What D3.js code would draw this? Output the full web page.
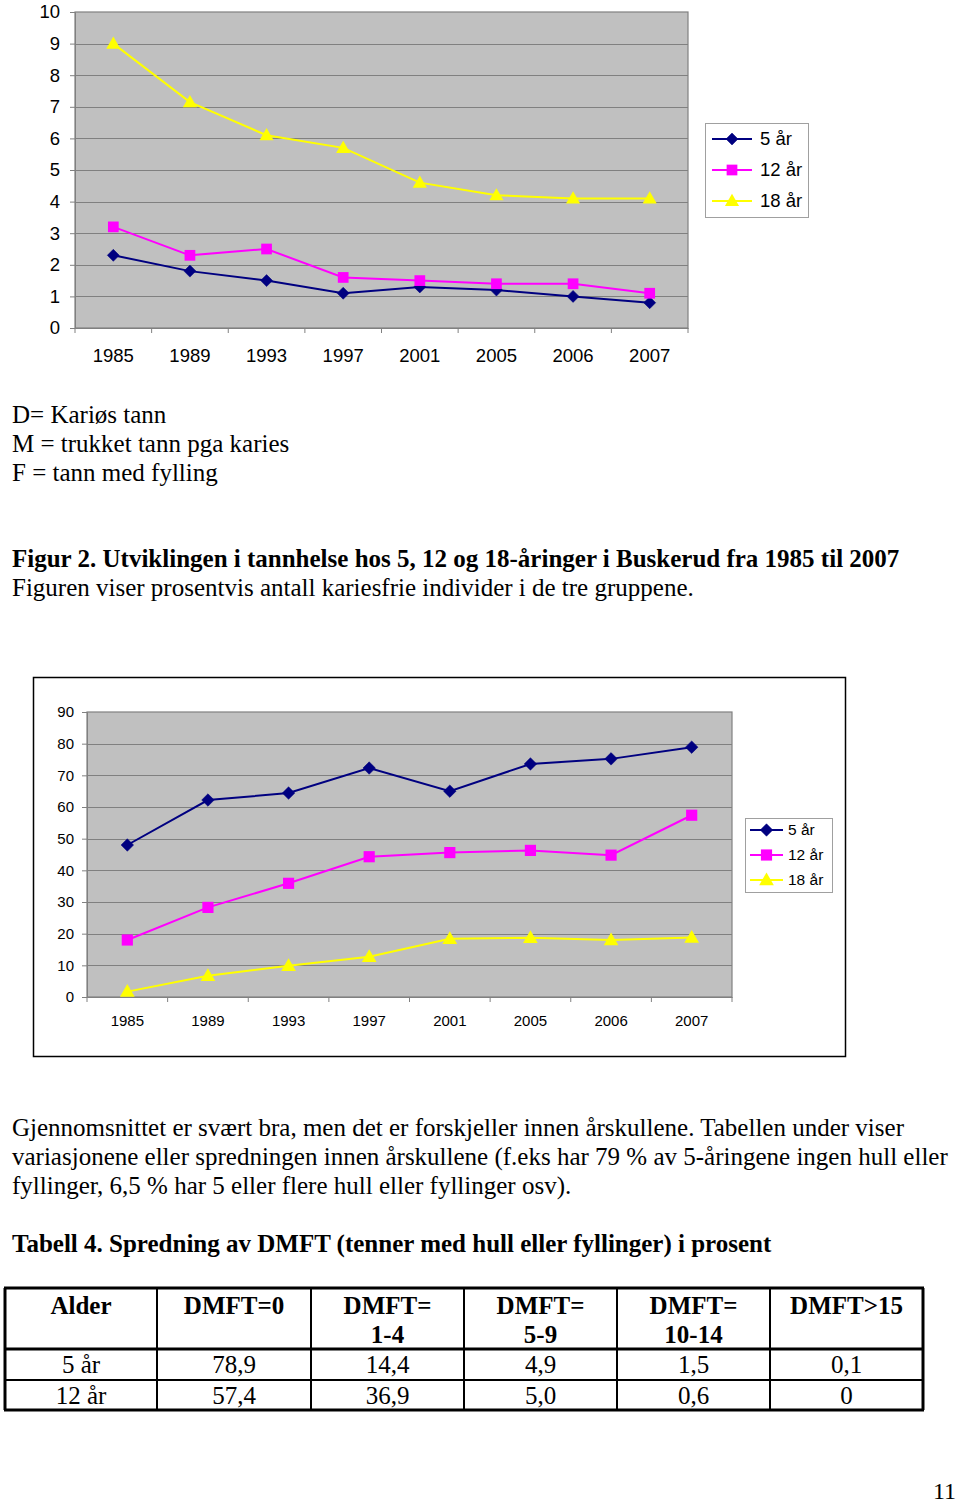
<!DOCTYPE html>
<html><head><meta charset="utf-8">
<script src="https://cdn.jsdelivr.net/npm/d3@7"></script>
<style>
body{margin:0;background:#fff;}
svg{display:block;}
</style></head>
<body>
<svg id="page" width="960" height="1506"></svg>
<script>
// ---------- DATA ----------
const categories = ["1985","1989","1993","1997","2001","2005","2006","2007"];
const seriesNames = ["5 år","12 år","18 år"];
// Chart 1: DMFT
const dmft5  = [2.3, 1.8, 1.5, 1.1, 1.3, 1.2, 1.0, 0.8];
const dmft12 = [3.2, 2.3, 2.5, 1.6, 1.5, 1.4, 1.4, 1.1];
const dmft18 = [9.0, 7.15, 6.1, 5.7, 4.6, 4.2, 4.1, 4.1];
const dmftTicks = [0,1,2,3,4,5,6,7,8,9,10];
// Chart 2: % kariesfrie
const kf5  = [48.0, 62.2, 64.4, 72.3, 65.0, 73.6, 75.2, 78.9];
const kf12 = [18.0, 28.3, 35.9, 44.3, 45.6, 46.3, 44.8, 57.4];
const kf18 = [1.7, 6.7, 9.9, 12.7, 18.4, 18.7, 18.0, 18.8];
const kfTicks = [0,10,20,30,40,50,60,70,80,90];
// Table 4
const tableHeader = [["Alder"],["DMFT=0"],["DMFT=","1-4"],["DMFT=","5-9"],["DMFT=","10-14"],["DMFT>15"]];
const tableRows = [["5 år","78,9","14,4","4,9","1,5","0,1"],["12 år","57,4","36,9","5,0","0,6","0"]];

const colors = ["#000080","#FF00FF","#FFFF00"];
const shapes = ["diamond","square","triangle"];

const svg = d3.select("#page");

function marker(g, shape, color, x, y, s) {
  if (shape === "diamond") {
    g.append("path").attr("d", d3.symbol(d3.symbolSquare, s*s*0.5)())
      .attr("transform", `translate(${x},${y}) rotate(45)`).attr("fill", color).attr("stroke", color).attr("stroke-width",0.5);
  } else if (shape === "square") {
    g.append("path").attr("d", d3.symbol(d3.symbolSquare, s*s*0.8)())
      .attr("transform", `translate(${x},${y})`).attr("fill", color);
  } else {
    g.append("path").attr("d", d3.symbol(d3.symbolTriangle, s*s*0.6)())
      .attr("transform", `translate(${x},${y+1})`).attr("fill", color);
  }
}

function drawChart(o) {
  const g = svg.append("g");
  if (o.frame) {
    g.append("rect").attr("x", o.frame[0]+0.5).attr("y", o.frame[1]+0.5)
      .attr("width", o.frame[2]).attr("height", o.frame[3])
      .attr("fill", "#fff").attr("stroke", "#000").attr("stroke-width", 1.5);
  }
  const x = d3.scaleBand().domain(categories).range([o.left, o.right]);
  const y = d3.scaleLinear().domain([0, o.max]).range([o.bottom, o.top]);
  g.append("rect").attr("x", o.left).attr("y", o.top).attr("width", o.right-o.left)
    .attr("height", o.bottom-o.top).attr("fill", "#C0C0C0").attr("stroke", "#808080").attr("stroke-width", 1.2);
  // gridlines
  g.selectAll(".grid").data(o.ticks.filter(t => t>0 && t<o.max)).join("line")
    .attr("x1", o.left).attr("x2", o.right)
    .attr("y1", d => Math.round(y(d))+0.5).attr("y2", d => Math.round(y(d))+0.5)
    .attr("stroke", "#808080").attr("stroke-width", 1);
  // y axis
  const ya = g.append("g").attr("transform", `translate(${o.left},0)`)
    .call(d3.axisLeft(y).tickValues(o.ticks).tickSize(5).tickPadding(o.ypad).tickFormat(d3.format("d")));
  ya.select(".domain").attr("stroke", "#808080");
  ya.selectAll(".tick line").attr("stroke", "#808080");
  ya.selectAll("text").attr("font-family", "Liberation Sans, Arial, sans-serif").attr("font-size", o.fs).attr("fill", "#000");
  // x axis
  const xa = g.append("g").attr("transform", `translate(0,${o.bottom})`)
    .call(d3.axisBottom(x).tickSize(0).tickPadding(o.xpad));
  xa.select(".domain").attr("stroke", "#808080");
  xa.selectAll("text").attr("font-family", "Liberation Sans, Arial, sans-serif").attr("font-size", o.fs).attr("fill", "#000");
  // boundary ticks
  const bounds = categories.map(c => x(c)).concat([o.right]);
  g.selectAll(".bt").data(bounds).join("line")
    .attr("x1", d => d).attr("x2", d => d).attr("y1", o.bottom).attr("y2", o.bottom+5)
    .attr("stroke", "#808080");
  // series
  const cx = c => x(c) + x.bandwidth()/2;
  o.series.forEach((vals, i) => {
    const line = d3.line().x((d, j) => cx(categories[j])).y(d => y(d));
    g.append("path").datum(vals).attr("d", line).attr("fill", "none")
      .attr("stroke", colors[i]).attr("stroke-width", 2);
  });
  o.series.forEach((vals, i) => {
    vals.forEach((v, j) => marker(g, shapes[i], colors[i], cx(categories[j]), y(v), o.ms));
  });
  // legend
  const L = o.legend;
  g.append("rect").attr("x", L.x+0.5).attr("y", L.y+0.5).attr("width", L.w).attr("height", L.h)
    .attr("fill", "#fff").attr("stroke", "#A0A0A0");
  seriesNames.forEach((n, i) => {
    const yy = L.y + L.first + i*L.step;
    g.append("line").attr("x1", L.x+L.l0).attr("x2", L.x+L.l1).attr("y1", yy).attr("y2", yy)
      .attr("stroke", colors[i]).attr("stroke-width", 2);
    marker(g, shapes[i], colors[i], L.x+(L.l0+L.l1)/2, yy, o.ms);
    g.append("text").attr("x", L.x+L.tx).attr("y", yy).attr("dy", "0.35em")
      .attr("font-family", "Liberation Sans, Arial, sans-serif").attr("font-size", L.fs).text(n);
  });
}

drawChart({
  left: 75, right: 688, top: 12, bottom: 328, max: 10, ticks: dmftTicks,
  series: [dmft5, dmft12, dmft18], fs: 18.5, ypad: 10, xpad: 21, ms: 12,
  legend: {x: 705, y: 123, w: 103, h: 94, first: 16, step: 31, l0: 7, l1: 47, tx: 55, fs: 18.5}
});

drawChart({
  frame: [33, 677, 812, 379],
  left: 87, right: 732, top: 712, bottom: 997, max: 90, ticks: kfTicks,
  series: [kf5, kf12, kf18], fs: 15, ypad: 8, xpad: 18, ms: 12.5,
  legend: {x: 745, y: 818, w: 87, h: 74, first: 12, step: 25, l0: 5, l1: 38, tx: 43, fs: 15.5}
});

// ---------- TEXT ----------
const serif = "Liberation Serif, Times New Roman, serif";
const FS = 25;
function txt(x, y, s, bold, anchor, size) {
  svg.append("text").attr("x", x).attr("y", y).attr("font-family", serif)
    .attr("font-size", size || FS).attr("font-weight", bold ? "bold" : "normal")
    .attr("text-anchor", anchor || "start").text(s);
}
txt(12, 423, "D= Kariøs tann");
txt(12, 452, "M = trukket tann pga karies");
txt(12, 481, "F = tann med fylling");
txt(12, 567, "Figur 2. Utviklingen i tannhelse hos 5, 12 og 18-åringer i Buskerud fra 1985 til 2007", true);
txt(12, 596, "Figuren viser prosentvis antall kariesfrie individer i de tre gruppene.");
txt(12, 1136, "Gjennomsnittet er svært bra, men det er forskjeller innen årskullene. Tabellen under viser");
txt(12, 1165, "variasjonene eller spredningen innen årskullene (f.eks har 79 % av 5-åringene ingen hull eller");
txt(12, 1194, "fyllinger, 6,5 % har 5 eller flere hull eller fyllinger osv).");
txt(12, 1252, "Tabell 4. Spredning av DMFT (tenner med hull eller fyllinger) i prosent", true);
txt(956, 1499, "11", false, "end", 24);

// ---------- TABLE ----------
const colX = [5, 157, 311, 464, 617, 770, 923];
const rowY = [1288, 1349, 1380, 1410];
const tg = svg.append("g");
tableHeader.forEach((lines, c) => {
  const cxm = (colX[c] + colX[c+1]) / 2;
  lines.forEach((s, k) => {
    tg.append("text").attr("x", cxm).attr("y", 1314 + k*29).attr("text-anchor", "middle")
      .attr("font-family", serif).attr("font-size", FS).attr("font-weight", "bold").text(s);
  });
});
tableRows.forEach((row, r) => {
  row.forEach((s, c) => {
    const cxm = (colX[c] + colX[c+1]) / 2;
    tg.append("text").attr("x", cxm).attr("y", rowY[r+1] + 24).attr("text-anchor", "middle")
      .attr("font-family", serif).attr("font-size", FS).text(s);
  });
});
// grid lines
rowY.forEach((yy, i) => {
  tg.append("line").attr("x1", colX[0]-1).attr("x2", colX[6]+1).attr("y1", yy).attr("y2", yy)
    .attr("stroke", "#000").attr("stroke-width", (i === 0 || i === 3 || i === 1) ? 3 : 2);
});
colX.forEach((xx, i) => {
  tg.append("line").attr("x1", xx).attr("x2", xx).attr("y1", rowY[0]).attr("y2", rowY[3])
    .attr("stroke", "#000").attr("stroke-width", (i === 0 || i === 6) ? 3 : 2);
});
</script>
</body></html>
